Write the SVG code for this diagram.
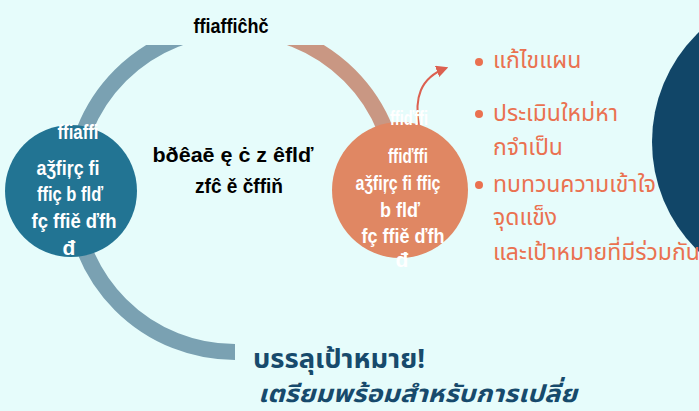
<svg xmlns="http://www.w3.org/2000/svg" width="699" height="411" viewBox="0 0 699 411">
<style>
.g{font-family:"Liberation Sans",Arial,sans-serif;font-weight:700;font-size:21px;text-anchor:middle}
.w{fill:#ffffff}
.k{fill:#000000}
.th{font-family:"Noto Sans Thai","Noto Sans",sans-serif;font-size:23px;fill:#ea7150}
.bt{font-family:"Noto Sans Thai","Noto Sans",sans-serif;font-weight:700;fill:#174a6c}
</style>
<defs>
<clipPath id="clipTop"><rect x="0" y="45" width="699" height="366"/></clipPath>
<marker id="ah" viewBox="0 0 10 10" refX="8" refY="5" markerWidth="6" markerHeight="6" orient="auto" markerUnits="strokeWidth">
<path d="M0,0 L10,5 L0,10 z" fill="#dc6050"/>
</marker>
</defs>
<rect width="699" height="411" fill="#e6fcfb"/>
<g id="connectors">
<g clip-path="url(#clipTop)" fill="none" stroke-width="16">
<path d="M235,28 A162,162 0 0,0 235,352" stroke="#7aa1b2"/>
<path d="M235,28 A162,162 0 0,1 397,190" stroke="#c99783"/>
</g>
<path d="M419,126 C414,98 420,78 446,68" fill="none" stroke="#dc6050" stroke-width="2" marker-end="url(#ah)"/>
</g>
<g id="title"><text class="g k" x="231" y="33" textLength="75" lengthAdjust="spacingAndGlyphs">ffiaffiĉhč</text></g>
<g id="center">
<text class="g k" x="233" y="162" textLength="161" lengthAdjust="spacingAndGlyphs">bðêaē ę ċ z êflď</text>
<text class="g k" x="239" y="193" textLength="88" lengthAdjust="spacingAndGlyphs">zfĉ ě čffiň</text>
</g>
<g id="node-left">
<circle cx="71" cy="191" r="66" fill="#227493"/>
<text class="g w" x="78" y="139" textLength="41" lengthAdjust="spacingAndGlyphs">ffiaffi</text>
<text class="g w" x="68" y="175" textLength="63" lengthAdjust="spacingAndGlyphs">aǯfiŗç fi</text>
<text class="g w" x="70" y="201" textLength="66" lengthAdjust="spacingAndGlyphs">ffiç b flď</text>
<text class="g w" x="74" y="228" textLength="85" lengthAdjust="spacingAndGlyphs">fç ffiě ďfh</text>
<text class="g w" x="69" y="255">đ</text>
</g>
<g id="node-right">
<circle cx="400" cy="190" r="68" fill="#e08763"/>
<text class="g w" x="409" y="125" textLength="38" lengthAdjust="spacingAndGlyphs">ffiďffi</text>
<text class="g w" x="408" y="163" textLength="40" lengthAdjust="spacingAndGlyphs">ffiďffi</text>
<text class="g w" x="398" y="190" textLength="85" lengthAdjust="spacingAndGlyphs">aǯfiŗç fi ffiç</text>
<text class="g w" x="400" y="217" textLength="40" lengthAdjust="spacingAndGlyphs">b flď</text>
<text class="g w" x="403" y="243" textLength="83" lengthAdjust="spacingAndGlyphs">fç ffiě ďfh</text>
<text class="g w" x="402" y="267">đ</text>
</g>
<g id="node-dark"><circle cx="804" cy="142" r="152" fill="#114668"/></g>
<g id="list">
<circle cx="479" cy="62" r="4" fill="#ea7150"/>
<circle cx="479" cy="114" r="4" fill="#ea7150"/>
<circle cx="479" cy="185" r="4" fill="#ea7150"/>
<text class="th" x="493" y="68">แก้ไขแผน</text>
<text class="th" x="493" y="121">ประเมินใหม่หา</text>
<text class="th" x="493" y="155">กจำเป็น</text>
<text class="th" x="493" y="192">ทบทวนความเข้าใจ</text>
<text class="th" x="493" y="225">จุดแข็ง</text>
<text class="th" x="493" y="260">และเป้าหมายที่มีร่วมกัน</text>
</g>
<g id="footer">
<text class="bt" x="253" y="368" font-size="26" textLength="172" lengthAdjust="spacingAndGlyphs">บรรลุเป้าหมาย!</text>
<text class="bt" x="258" y="402" font-size="24" font-style="italic" textLength="319" lengthAdjust="spacingAndGlyphs">เตรียมพร้อมสำหรับการเปลี่ย</text>
</g>
</svg>
